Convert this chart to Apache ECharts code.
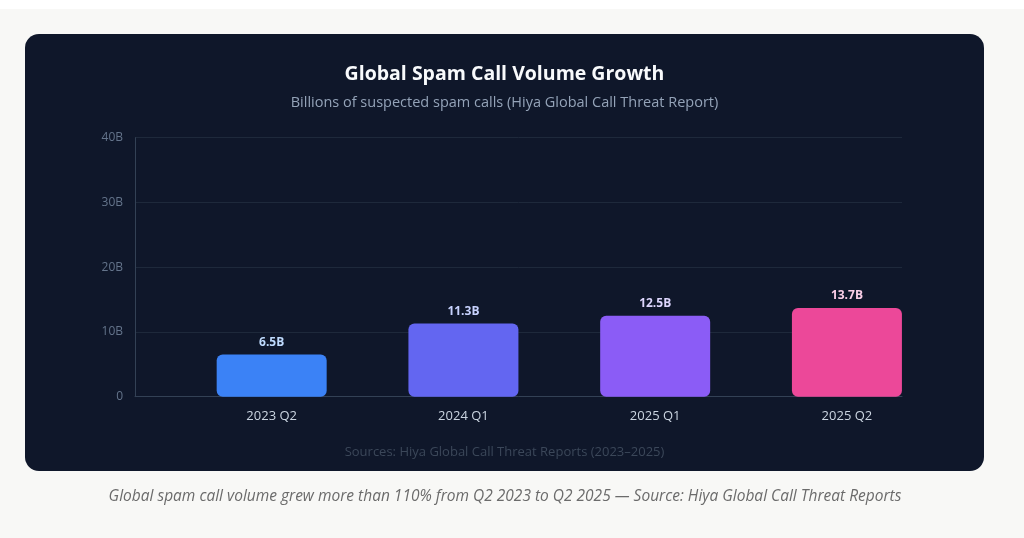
<!DOCTYPE html>
<html>
<head>
<meta charset="utf-8">
<script src="https://cdn.jsdelivr.net/npm/echarts@6/dist/echarts.min.js"></script>
<style>
html,body{margin:0;padding:0;background:#f8f8f6;}
#chart{width:1024px;height:538px;}
</style>
</head>
<body>
<div id="chart"></div>
<script>
const categories = ['2023 Q2', '2024 Q1', '2025 Q1', '2025 Q2'];
const spamCalls = [6.5, 11.3, 12.5, 13.7];
const barColors = ['#3b82f6', '#6366f1', '#8b5cf6', '#ec4899'];
const labelColors = ['#bfdbfe', '#c7d2fe', '#ddd6fe', '#fbcfe8'];
const yTicks = [0, 10, 20, 30, 40];

const FONT = '"Open Sans", "Noto Sans", sans-serif';
const chart = echarts.init(document.getElementById('chart'), null, {renderer: 'canvas'});

const yLabel = v => (v === 0 ? '0' : v + 'B');

chart.setOption({
  backgroundColor: '#f8f8f6',
  animation: false,
  graphic: [
    {type: 'rect', shape: {x: 0, y: 0, width: 1024, height: 9}, style: {fill: '#ffffff'}, z: -10},
    {type: 'rect', shape: {x: 25, y: 34, width: 959, height: 437, r: 14}, style: {fill: '#0f172a'}, z: -5},
    {type: 'text', x: 504.5, y: 74, style: {text: 'Global Spam Call Volume Growth', fill: '#f8fafc', font: 'bold 19.5px ' + FONT, textAlign: 'center', textVerticalAlign: 'middle'}},
    {type: 'text', x: 504.5, y: 103, style: {text: 'Billions of suspected spam calls (Hiya Global Call Threat Report)', fill: '#94a3b8', font: '14.5px ' + FONT, textAlign: 'center', textVerticalAlign: 'middle'}},
    {type: 'text', x: 504.5, y: 452, style: {text: 'Sources: Hiya Global Call Threat Reports (2023–2025)', fill: '#3b4759', font: '13px ' + FONT, textAlign: 'center', textVerticalAlign: 'middle'}},
    {type: 'text', x: 505, y: 497, style: {text: 'Global spam call volume grew more than 110% from Q2 2023 to Q2 2025 — Source: Hiya Global Call Threat Reports', fill: '#6b6b6b', font: 'italic 15.5px ' + FONT, textAlign: 'center', textVerticalAlign: 'middle'}}
  ],
  grid: [
    {left: 135, width: 767, top: 137.7, height: 259},
    {left: 175.8, width: 767, top: 137.7, height: 259}
  ],
  xAxis: [
    {type: 'category', gridIndex: 0, data: categories,
     axisLine: {show: true, lineStyle: {color: '#334155', width: 1}},
     axisTick: {show: false}, axisLabel: {show: false}, splitLine: {show: false}},
    {type: 'category', gridIndex: 1, data: categories,
     axisLine: {show: false}, axisTick: {show: false}, splitLine: {show: false},
     axisLabel: {color: '#cbd5e1', fontSize: 13, fontFamily: FONT, margin: 13}}
  ],
  yAxis: [
    {type: 'value', gridIndex: 0, min: yTicks[0], max: yTicks[yTicks.length - 1], interval: 10,
     axisLine: {show: true, lineStyle: {color: '#334155', width: 1}},
     axisTick: {show: false},
     axisLabel: {color: '#64748b', fontSize: 12, fontFamily: FONT, margin: 12, formatter: yLabel},
     splitLine: {show: true, lineStyle: {color: '#1e293b', width: 1}}},
    {type: 'value', gridIndex: 1, min: yTicks[0], max: yTicks[yTicks.length - 1], interval: 10,
     axisLine: {show: false}, axisTick: {show: false}, axisLabel: {show: false}, splitLine: {show: false}}
  ],
  series: [{
    type: 'bar',
    xAxisIndex: 1, yAxisIndex: 1,
    barWidth: 110,
    data: spamCalls.map((v, i) => ({
      value: v,
      itemStyle: {color: barColors[i], borderRadius: 6},
      label: {color: labelColors[i]}
    })),
    label: {show: true, position: 'top', distance: 6, fontSize: 12, fontWeight: 'bold', fontFamily: FONT,
      formatter: p => p.value + 'B'}
  }]
});
</script>
</body>
</html>
